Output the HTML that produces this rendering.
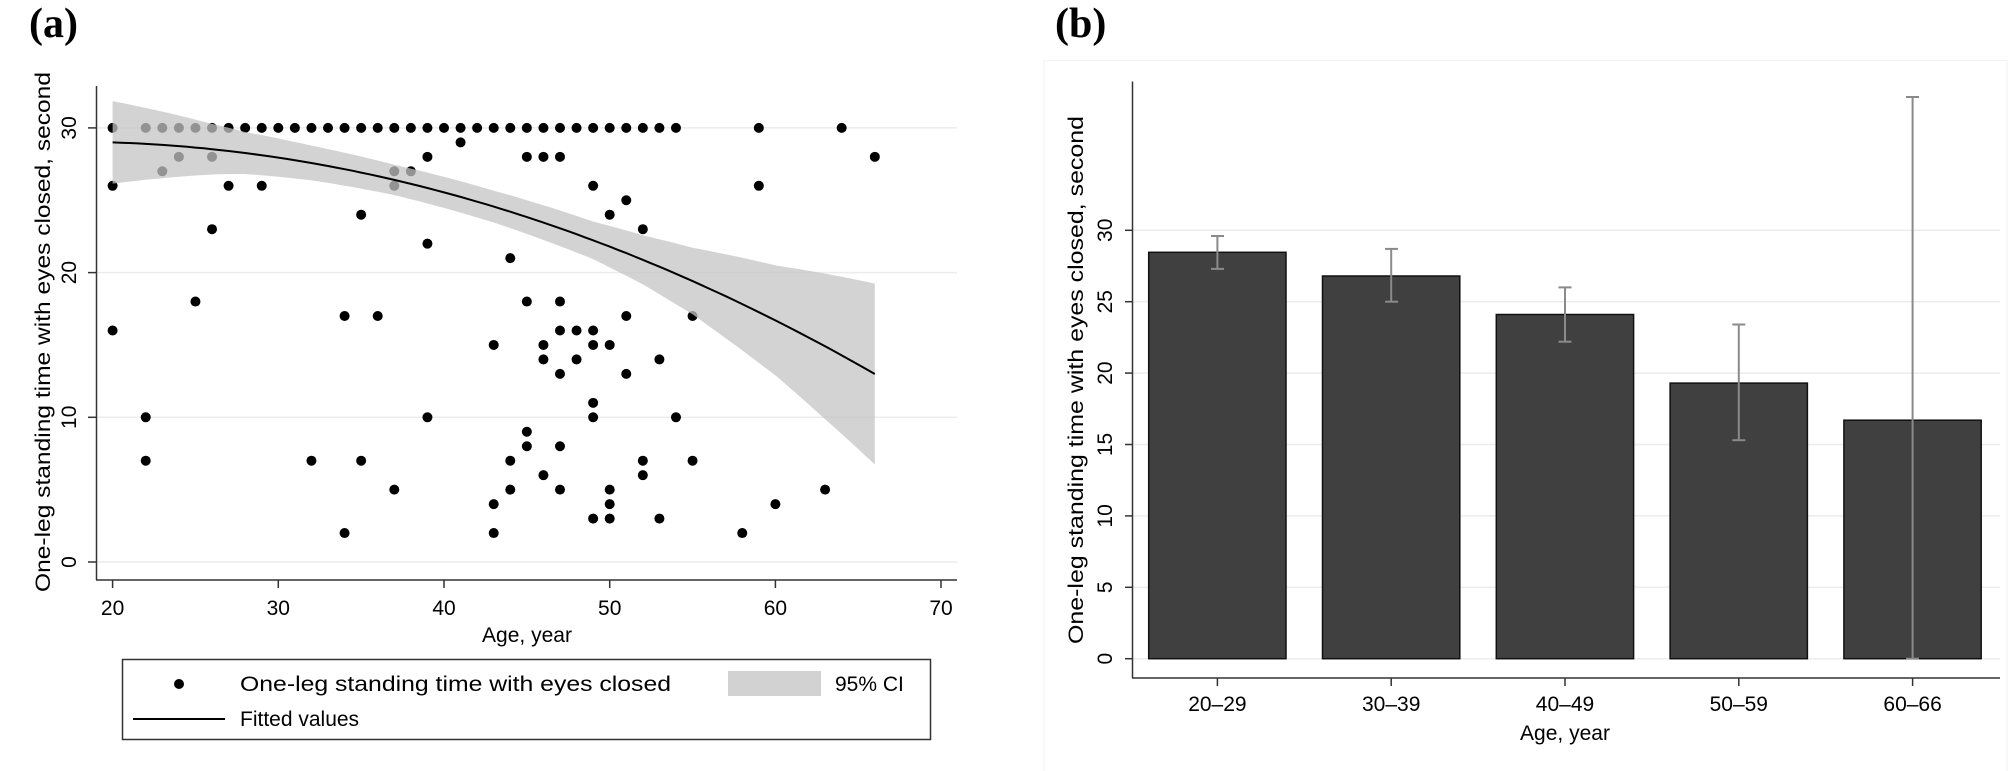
<!DOCTYPE html>
<html><head><meta charset="utf-8"><style>html,body{margin:0;padding:0;background:#fff}svg{display:block}</style></head>
<body>
<svg xmlns="http://www.w3.org/2000/svg" width="2008" height="771" viewBox="0 0 2008 771" font-family="'Liberation Sans', sans-serif">
<rect width="2008" height="771" fill="#fff"/>
<text x="29" y="37" font-family="'Liberation Serif', serif" font-weight="bold" font-size="42">(a)</text>
<text x="1055" y="37" font-family="'Liberation Serif', serif" font-weight="bold" font-size="42">(b)</text>

<!-- Panel A -->
<g stroke="#ececec" stroke-width="1.5">
<line x1="97" y1="562" x2="957" y2="562"/><line x1="97" y1="417.3" x2="957" y2="417.3"/>
<line x1="97" y1="272.6" x2="957" y2="272.6"/><line x1="97" y1="127.9" x2="957" y2="127.9"/>
</g>
<g id="pts" fill="#000"></g>
<path id="band" fill="#c4c4c4" fill-opacity="0.75" d=""/>
<path id="fit" fill="none" stroke="#000" stroke-width="2" d=""/>
<g stroke="#333" stroke-width="1.5">
<line x1="96.5" y1="86" x2="96.5" y2="580"/><line x1="96" y1="580" x2="957" y2="580"/>
<line x1="88" y1="562" x2="96" y2="562"/><line x1="88" y1="417.3" x2="96" y2="417.3"/><line x1="88" y1="272.6" x2="96" y2="272.6"/><line x1="88" y1="127.9" x2="96" y2="127.9"/>
<line x1="112.6" y1="580" x2="112.6" y2="588"/><line x1="278.3" y1="580" x2="278.3" y2="588"/><line x1="444" y1="580" x2="444" y2="588"/><line x1="609.7" y1="580" x2="609.7" y2="588"/><line x1="775.4" y1="580" x2="775.4" y2="588"/><line x1="941" y1="580" x2="941" y2="588"/>
</g>
<g font-size="21" text-anchor="middle" fill="#000">
<text transform="translate(76,562) rotate(-90)">0</text>
<text transform="translate(76,417.3) rotate(-90)">10</text>
<text transform="translate(76,272.6) rotate(-90)">20</text>
<text transform="translate(76,127.9) rotate(-90)">30</text>
<text x="112.6" y="615">20</text><text x="278.3" y="615">30</text><text x="444" y="615">40</text><text x="609.7" y="615">50</text><text x="775.4" y="615">60</text><text x="941" y="615">70</text>
<text x="527" y="642">Age, year</text>
<text transform="translate(50,332) rotate(-90)" textLength="520" lengthAdjust="spacingAndGlyphs">One-leg standing time with eyes closed, second</text>
</g>
<rect x="122.5" y="659.5" width="808" height="80" fill="#fff" stroke="#333" stroke-width="1.5"/>
<circle cx="179" cy="684" r="5"/>
<line x1="133" y1="719" x2="225" y2="719" stroke="#000" stroke-width="2"/>
<rect x="728" y="671" width="93" height="25" fill="#d2d2d2"/>
<g font-size="21" fill="#000">
<text x="240" y="691" textLength="431" lengthAdjust="spacingAndGlyphs">One-leg standing time with eyes closed</text>
<text x="240" y="726">Fitted values</text>
<text x="835" y="691">95% CI</text>
</g>

<!-- Panel B -->
<rect x="1044" y="60.5" width="963" height="711" fill="#fff" stroke="#f2f2f2" stroke-width="1"/>
<g stroke="#ececec" stroke-width="1.5">
<line x1="1133" y1="587.3" x2="2000" y2="587.3"/><line x1="1133" y1="515.9" x2="2000" y2="515.9"/><line x1="1133" y1="444.5" x2="2000" y2="444.5"/><line x1="1133" y1="373.1" x2="2000" y2="373.1"/><line x1="1133" y1="301.7" x2="2000" y2="301.7"/><line x1="1133" y1="230.3" x2="2000" y2="230.3"/><line x1="1133" y1="658.7" x2="2000" y2="658.7"/>
</g>
<g fill="#404040" stroke="#111" stroke-width="1.5">
<rect x="1148.7" y="252.3" width="137.3" height="406.4"/>
<rect x="1322.5" y="276.0" width="137.3" height="382.7"/>
<rect x="1496.3" y="314.5" width="137.3" height="344.2"/>
<rect x="1670.1" y="383.1" width="137.3" height="275.6"/>
<rect x="1843.9" y="420.2" width="137.3" height="238.5"/>
</g>
<g stroke="#8a8a8a" stroke-width="2">
<line x1="1217.4" y1="236" x2="1217.4" y2="268.9"/><line x1="1211" y1="236" x2="1224" y2="236"/><line x1="1211" y1="268.9" x2="1224" y2="268.9"/>
<line x1="1391.2" y1="248.9" x2="1391.2" y2="301.7"/><line x1="1385" y1="248.9" x2="1398" y2="248.9"/><line x1="1385" y1="301.7" x2="1398" y2="301.7"/>
<line x1="1565" y1="287.4" x2="1565" y2="341.7"/><line x1="1558.5" y1="287.4" x2="1571.5" y2="287.4"/><line x1="1558.5" y1="341.7" x2="1571.5" y2="341.7"/>
<line x1="1738.8" y1="324.5" x2="1738.8" y2="440.2"/><line x1="1732.3" y1="324.5" x2="1745.3" y2="324.5"/><line x1="1732.3" y1="440.2" x2="1745.3" y2="440.2"/>
<line x1="1912.6" y1="97" x2="1912.6" y2="658.7"/><line x1="1906" y1="97" x2="1919" y2="97"/><line x1="1906" y1="658.7" x2="1919" y2="658.7"/>
</g>
<g stroke="#333" stroke-width="1.5">
<line x1="1132.5" y1="81.5" x2="1132.5" y2="678"/><line x1="1132" y1="678" x2="2000" y2="678"/>
<line x1="1125" y1="658.7" x2="1132" y2="658.7"/><line x1="1125" y1="587.3" x2="1132" y2="587.3"/><line x1="1125" y1="515.9" x2="1132" y2="515.9"/><line x1="1125" y1="444.5" x2="1132" y2="444.5"/><line x1="1125" y1="373.1" x2="1132" y2="373.1"/><line x1="1125" y1="301.7" x2="1132" y2="301.7"/><line x1="1125" y1="230.3" x2="1132" y2="230.3"/>
<line x1="1217.4" y1="678" x2="1217.4" y2="686"/><line x1="1391.2" y1="678" x2="1391.2" y2="686"/><line x1="1565" y1="678" x2="1565" y2="686"/><line x1="1738.8" y1="678" x2="1738.8" y2="686"/><line x1="1912.6" y1="678" x2="1912.6" y2="686"/>
</g>
<g font-size="21" text-anchor="middle" fill="#000">
<text transform="translate(1112,658.7) rotate(-90)">0</text>
<text transform="translate(1112,587.3) rotate(-90)">5</text>
<text transform="translate(1112,515.9) rotate(-90)">10</text>
<text transform="translate(1112,444.5) rotate(-90)">15</text>
<text transform="translate(1112,373.1) rotate(-90)">20</text>
<text transform="translate(1112,301.7) rotate(-90)">25</text>
<text transform="translate(1112,230.3) rotate(-90)">30</text>
<text x="1217.4" y="711">20–29</text><text x="1391.2" y="711">30–39</text><text x="1565" y="711">40–49</text><text x="1738.8" y="711">50–59</text><text x="1912.6" y="711">60–66</text>
<text x="1565" y="740">Age, year</text>
<text transform="translate(1083,380) rotate(-90)" textLength="528" lengthAdjust="spacingAndGlyphs">One-leg standing time with eyes closed, second</text>
</g>
</svg>
<script>
(function(){
var X=function(a){return 112.6+(a-20)*16.57;},Y=function(v){return 562-v*14.47;};
var p=[];
[20,22,23,24,25,26,27,28,29,30,31,32,33,34,35,36,37,38,39,40,41,42,43,44,45,46,47,48,49,50,51,52,53,54,59,64].forEach(function(a){p.push([a,30]);});
p=p.concat([[41,29],[24,28],[26,28],[39,28],[45,28],[46,28],[47,28],[66,28],[23,27],[37,27],[38,27],[37,26],[20,26],[27,26],[29,26],[49,26],[59,26],[51,25],[35,24],[50,24],[26,23],[52,23],[39,22],[44,21],[25,18],[45,18],[47,18],[20,16],[34,17],[36,17],[51,17],[55,17],[47,16],[48,16],[49,16],[43,15],[46,15],[49,15],[50,15],[46,14],[48,14],[53,14],[47,13],[51,13],[49,11],[22,10],[39,10],[49,10],[54,10],[45,9],[45,8],[47,8],[22,7],[32,7],[35,7],[44,7],[52,7],[55,7],[46,6],[52,6],[37,5],[44,5],[47,5],[50,5],[63,5],[43,4],[50,4],[60,4],[49,3],[50,3],[53,3],[34,2],[43,2],[58,2]]);
var g=document.getElementById('pts'),ns='http://www.w3.org/2000/svg';
p.forEach(function(q){var c=document.createElementNS(ns,'circle');c.setAttribute('cx',X(q[0]));c.setAttribute('cy',Y(q[1]));c.setAttribute('r',5);g.appendChild(c);});
var f=function(a){var t=a-20;return 29-0.038*t-0.00674*t*t;};
var K=[[0,2.85],[3,2.3],[6,1.75],[8,1.45],[12,1.2],[17,1.05],[23,1.1],[29,1.3],[32,1.7],[35,2.3],[40,3.8],[46,6.25]];
var h=function(a){var t=a-20;for(var i=0;i!==K.length-1;i++){if(K[i+1][0]>=t){var u=(t-K[i][0])/(K[i+1][0]-K[i][0]);return K[i][1]+u*(K[i+1][1]-K[i][1]);}}return K[K.length-1][1];};
var up=[],lo=[],fit=[];
for(var k=0;k!==93;k++){var a=20+k*0.5;up.push(X(a).toFixed(1)+','+Y(f(a)+h(a)).toFixed(1));lo.unshift(X(a).toFixed(1)+','+Y(f(a)-h(a)).toFixed(1));fit.push(X(a).toFixed(1)+','+Y(f(a)).toFixed(1));}
document.getElementById('band').setAttribute('d','M'+up.join('L')+'L'+lo.join('L')+'Z');
document.getElementById('fit').setAttribute('d','M'+fit.join('L'));
})();
</script>
</body></html>
